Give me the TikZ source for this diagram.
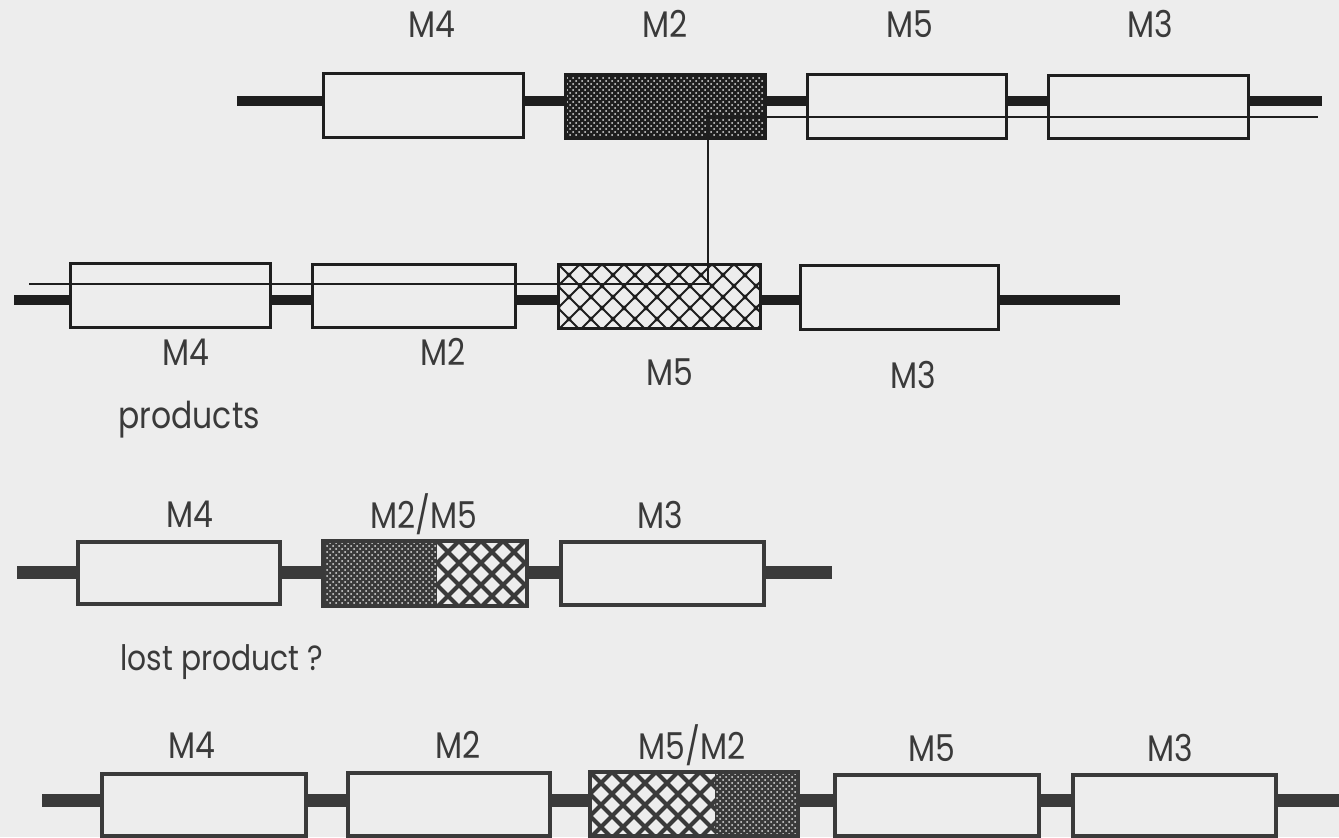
\documentclass[tikz,border=0pt]{standalone}
\usepackage{fontspec}
\setmainfont{Poppins}
\newfontfamily\lblfont[FakeStretch=0.85]{Poppins}
\usetikzlibrary{patterns}
\definecolor{bg}{HTML}{EDEDED}
\definecolor{ink}{HTML}{1E1E1E}
\definecolor{inkb}{HTML}{3A3A3A}
\definecolor{dotc}{HTML}{E0E0E0}
\tikzset{
  bx/.style 2 args={rectangle, inner sep=0pt, outer sep=0pt, minimum width=#1*0.5pt, minimum height=#2*0.5pt},
  boxA/.style={line width=1.5pt, draw=ink},
  boxB/.style={line width=1.6pt, draw=inkb},
  thickA/.style={line width=5.3pt, draw=ink},
  thickB/.style={line width=6.5pt, draw=inkb},
  thinA/.style={line width=1.3pt, draw=ink},
  lbl/.style={font=\lblfont\fontsize{18.5}{18.5}\selectfont, text=inkb, inner sep=0pt},
}
% dense dotted fill
\newcommand\densefill[5]{%
  \fill[#5] (#1,#2) rectangle (#3,#4);
  \fill[pattern=crosshatch dots, pattern color=dotc] (#1,#2) rectangle (#3,#4);}
% diamond lattice fill
\newcommand\lattfill[7]{%
  \begin{scope}
  \clip (#1,#2) rectangle (#3,#4);
  \foreach \n in {-4,...,16}{
    \draw[line width=#5, #7] ({#1+\n*22},#2) -- ++(-88,88);
    \draw[line width=#5, #7] ({#1+\n*22},#2) -- ++(88,88);
  }
  \foreach \a in {0,...,20}{\foreach \b in {0,...,6}{
    \pgfmathtruncatemacro\pp{mod(\a+\b,2)}
    \ifnum\pp=0 \fill[#7] ({#1+\a*11},{#2+\b*11}) circle[radius=#6];\fi
  }}
  \end{scope}}
\begin{document}
\begin{tikzpicture}[x=0.5pt, y=-0.5pt]
\fill[bg] (0,0) rectangle (1339,837);
\useasboundingbox (0,0) rectangle (1339,837);

% ---------- patterns ----------
\densefill{565}{74}{765}{138}{ink}
\lattfill{558}{264}{760}{328}{1pt}{2.4}{ink}
\densefill{323}{541}{437}{606}{inkb}
\lattfill{437}{541}{527}{606}{2pt}{3}{inkb}
\lattfill{590}{772}{715}{836}{2pt}{3}{inkb}
\densefill{715}{772}{798}{836}{inkb}

% ---------- row 1 ----------
\node[bx={200}{64}, boxA] (r1m4) at (423,105) {};
\node[bx={200}{64}, boxA] (r1m2) at (665,106) {};
\node[bx={199}{64}, boxA] (r1m5) at (906.5,106) {};
\node[bx={200}{63}, boxA] (r1m3) at (1148,106.5) {};
\coordinate (r1s) at (237,101);
\coordinate (r1e) at (1322,101);
\draw[thickA] (r1s) -- (r1m4.west |- r1s);
\draw[thickA] (r1m4.east |- r1s) -- (r1m2.west |- r1s);
\draw[thickA] (r1m2.east |- r1s) -- (r1m5.west |- r1s);
\draw[thickA] (r1m5.east |- r1s) -- (r1m3.west |- r1s);
\draw[thickA] (r1m3.east |- r1s) -- (r1e);

% ---------- row 2 ----------
\node[bx={200}{64}, boxA] (r2m4) at (170,295) {};
\node[bx={203}{63}, boxA] (r2m2) at (413.5,295.5) {};
\node[bx={202}{64}, boxA] (r2m5) at (659,296) {};
\node[bx={198}{64}, boxA] (r2m3) at (899,297) {};
\coordinate (r2s) at (14,300);
\coordinate (r2e) at (1120,300);
\draw[thickA] (r2s) -- (r2m4.west |- r2s);
\draw[thickA] (r2m4.east |- r2s) -- (r2m2.west |- r2s);
\draw[thickA] (r2m2.east |- r2s) -- (r2m5.west |- r2s);
\draw[thickA] (r2m5.east |- r2s) -- (r2m3.west |- r2s);
\draw[thickA] (r2m3.east |- r2s) -- (r2e);

% thin crossover line
\coordinate (t0) at (29,284);
\coordinate (t1) at (708,284);
\coordinate (t2) at (708,117);
\coordinate (t3) at (1318,117);
\draw[thinA] (t0) -- (t1) -- (t2) -- (t3);

% ---------- row 3 ----------
\node[bx={202}{62}, boxB] (r3m4) at (179,573) {};
\node[bx={204}{65}, boxB] (r3m25) at (425,573.5) {};
\node[bx={203}{63}, boxB] (r3m3) at (662.5,573.5) {};
\coordinate (r3s) at (17,572);
\coordinate (r3e) at (832,572);
\draw[thickB] (r3s) -- (r3m4.west |- r3s);
\draw[thickB] (r3m4.east |- r3s) -- (r3m25.west |- r3s);
\draw[thickB] (r3m25.east |- r3s) -- (r3m3.west |- r3s);
\draw[thickB] (r3m3.east |- r3s) -- (r3e);

% ---------- row 4 ----------
\node[bx={204}{62}, boxB] (r4m4) at (204,805) {};
\node[bx={202}{63}, boxB] (r4m2) at (449,804.5) {};
\node[bx={208}{64}, boxB] (r4m52) at (694,804) {};
\node[bx={204}{61}, boxB] (r4m5) at (937,805.5) {};
\node[bx={203}{61}, boxB] (r4m3) at (1174.5,805.5) {};
\coordinate (r4s) at (42,800);
\coordinate (r4e) at (1339,800);
\draw[thickB] (r4s) -- (r4m4.west |- r4s);
\draw[thickB] (r4m4.east |- r4s) -- (r4m2.west |- r4s);
\draw[thickB] (r4m2.east |- r4s) -- (r4m52.west |- r4s);
\draw[thickB] (r4m52.east |- r4s) -- (r4m5.west |- r4s);
\draw[thickB] (r4m5.east |- r4s) -- (r4m3.west |- r4s);
\draw[thickB] (r4m3.east |- r4s) -- (r4e);

% ---------- labels ----------
\node[lbl] (l1a) at (432,24) {M4};
\node[lbl] (l1b) at (665,24) {M2};
\node[lbl] (l1c) at (910,24) {M5};
\node[lbl] (l1d) at (1150,24) {M3};
\node[lbl] (l2a) at (186,352) {M4};
\node[lbl] (l2b) at (443,352) {M2};
\node[lbl] (l2c) at (670,372) {M5};
\node[lbl] (l2d) at (913,375) {M3};
\node[lbl, anchor=base west] (prod) at (118,428) {products};
\node[lbl] (l3a) at (190,514) {M4};
\node[lbl] (l3b) at (424,514) {M2/M5};
\node[lbl] (l3c) at (660,515) {M3};
\node[lbl, anchor=base west, font=\lblfont\fontsize{17.5}{17.5}\selectfont] (lost) at (120,670) {lost product ?};
\node[lbl] (l4a) at (192,745) {M4};
\node[lbl] (l4b) at (458,745) {M2};
\node[lbl] (l4c) at (692,745) {M5/M2};
\node[lbl] (l4d) at (932,748) {M5};
\node[lbl] (l4e) at (1170,748) {M3};
\end{tikzpicture}
\end{document}
